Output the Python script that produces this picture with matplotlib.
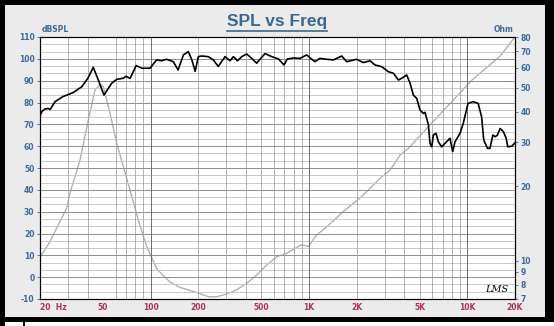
import matplotlib.pyplot as plt
import matplotlib.patches as mpatches
from matplotlib.lines import Line2D
from matplotlib.ticker import FixedLocator, NullFormatter, NullLocator

# SPL response (Hz, dB)
spl_freq = [20, 20.6, 21.5, 22.5, 23.2, 24.9, 27.9, 32.3, 36.7, 40.2, 43.4, 46.7, 50.7,
            56.7, 61, 67, 70, 74, 81, 88, 99, 109, 117, 126, 139, 149, 161, 173, 182,
            191, 200, 210, 231, 249, 267, 295, 317, 333, 353, 376, 404, 435, 467, 527,
            581, 640, 695, 729, 796, 877, 967, 1040, 1090, 1170, 1294, 1425, 1610, 1730,
            2000, 2200, 2430, 2610, 2880, 3170, 3410, 3670, 3850, 4140, 4350, 4560, 4790,
            5020, 5280, 5400, 5670, 5810, 5960, 6100, 6340, 6560, 6890, 7230, 7770, 8080,
            8360, 8990, 9430, 10100, 10900, 11700, 12300, 12700, 13400, 13900, 14500,
            15000, 15500, 16100, 16900, 17600, 18000, 19100, 20000]
spl_db = [73.8, 76.0, 77.0, 77.3, 76.8, 80.4, 82.7, 84.5, 87.2, 91.2, 96.1, 90.3, 83.4,
          88.8, 90.6, 91.1, 92.0, 91.0, 96.9, 95.7, 95.7, 99.5, 99.1, 99.8, 98.7, 94.9,
          101.8, 103.3, 99.5, 94.3, 101.0, 101.3, 101.0, 99.5, 96.5, 101.0, 99.1, 101.0,
          99.1, 101.0, 102.2, 100.2, 98.0, 102.4, 101.0, 100.0, 97.2, 99.9, 100.4, 100.2,
          101.8, 99.8, 98.7, 100.2, 99.8, 99.5, 101.3, 98.7, 99.8, 98.3, 99.1, 97.2,
          96.4, 94.1, 93.4, 90.3, 91.1, 92.6, 88.8, 83.4, 81.9, 76.6, 75.0, 75.5, 70.0,
          61.3, 59.7, 65.1, 65.9, 62.0, 59.7, 61.3, 63.6, 57.5, 62.0, 65.9, 70.5, 79.6,
          80.4, 79.6, 73.5, 62.8, 59.0, 59.0, 65.1, 64.3, 65.1, 68.1, 66.6, 63.6, 59.7,
          60.0, 61.6]

# Impedance (Hz, Ohm)
imp_freq = [20, 23.1, 26.7, 29.5, 30.9, 35.8, 40.4, 44.5, 47.9, 50.2, 55.4, 61, 67.2,
            74, 83.5, 94.4, 109, 122, 132.5, 153, 175, 200, 231, 261, 302, 349, 404, 467,
            541, 625, 723, 816, 899, 990, 1118, 1294, 1646, 2100, 2490, 2810, 3250,
            3760, 4220, 6720, 10700, 16100, 20000]
imp_ohm = [10.3, 11.9, 14.4, 16.3, 18.7, 25.5, 37.0, 48.9, 51.5, 50.4, 39.3, 29.8, 24.0,
           19.3, 14.6, 11.4, 9.3, 8.6, 8.2, 7.8, 7.6, 7.4, 7.15, 7.15, 7.33, 7.62, 8.1, 8.75,
           9.6, 10.37, 10.7, 11.2, 11.6, 11.4, 12.7, 13.7, 15.8, 17.9, 19.9, 21.5, 23.2,
           26.7, 28.3, 39.0, 53.6, 67.0, 80.0]

x_ticks = [20, 50, 100, 200, 500, 1000, 2000, 5000, 10000, 20000]
x_labels = ['20  Hz', '50', '100', '200', '500', '1K', '2K', '5K', '10K', '20K']
db_ticks = list(range(-10, 111, 10))
ohm_ticks = [7, 8, 9, 10, 20, 30, 40, 50, 60, 70, 80]
minor_freqs = [30, 40, 60, 70, 80, 90, 300, 400, 600, 700, 800, 900,
               3000, 4000, 6000, 7000, 8000, 9000]

W, H = 554, 326
fig = plt.figure(figsize=(W / 100, H / 100), dpi=100)
fig.patch.set_facecolor('black')

# panel background and bottom strip
for x0, y0, w, h, c in [(5, 9, 540, 312, '#ebebeb'), (25, 0, 529, 4, 'white'),
                        (5, 0, 18, 4, 'white')]:
    fig.add_artist(mpatches.Rectangle((x0 / W, y0 / H), w / W, h / H,
                                      transform=fig.transFigure, zorder=-5,
                                      fc=c, ec='none'))

blue = '#3f6b9b'
red = '#b03060'

ax = fig.add_axes([40 / W, 1 - 299 / H, 475 / W, 262 / H])
ax.set_facecolor('white')
ax.set_xscale('log')
ax.set_xlim(20, 20000)
ax.set_ylim(-10, 110)

# horizontal grid: every 10 dB plus two lighter steps in between
for k in range(37):
    v = -10 + k * 10 / 3
    ax.hlines(v, 20, 20000, colors='#8c8c8c' if k % 3 == 0 else '#c8c8c8',
              lw=0.7, zorder=0.3)
# vertical grid: decades darker
ax.vlines(minor_freqs + [200, 500, 2000, 5000], -10, 110, colors='#a4a4a4',
          lw=0.6, zorder=0.4)
ax.vlines([100, 1000, 10000], -10, 110, colors='#6e6e6e', lw=0.7, zorder=0.5)

ax.xaxis.set_major_locator(FixedLocator(x_ticks))
ax.xaxis.set_minor_locator(NullLocator())
ax.xaxis.set_minor_formatter(NullFormatter())
ax.set_xticklabels(x_labels)
ax.yaxis.set_major_locator(FixedLocator(db_ticks))
ax.yaxis.set_minor_locator(NullLocator())
ax.set_yticklabels([str(t) for t in db_ticks])

ax.tick_params(axis='x', colors=red, labelsize=5.5, length=0, pad=3)
ax.tick_params(axis='y', colors=blue, labelsize=5.5, length=2, width=0.6, pad=2)
for lbl in ax.get_xticklabels() + ax.get_yticklabels():
    lbl.set_fontweight('bold')
ax.get_xticklabels()[0].set_horizontalalignment('left')

# impedance on the right-hand log axis
ax2 = ax.twinx()
ax2.set_yscale('log')
ax2.set_ylim(7, 80)
ax2.yaxis.set_major_locator(FixedLocator(ohm_ticks))
ax2.yaxis.set_minor_locator(NullLocator())
ax2.set_yticklabels([str(t) for t in ohm_ticks])
ax2.tick_params(axis='y', colors=blue, labelsize=5.5, length=2, width=0.6, pad=2)
for lbl in ax2.get_yticklabels():
    lbl.set_fontweight('bold')
ax2.plot(imp_freq, imp_ohm, color='#b0b0b0', lw=1.0, zorder=2)

# SPL curve drawn on top of the impedance curve
ax.plot(spl_freq, spl_db, color='black', lw=1.2, zorder=4)
ax.set_zorder(1)
ax2.set_zorder(0)
ax.patch.set_visible(False)
ax2.patch.set_visible(True)
ax2.patch.set_facecolor('white')

for a in (ax, ax2):
    for s in a.spines.values():
        s.set_color('black')
        s.set_linewidth(0.8)

fig.text(42 / W, 1 - 32 / H, 'dBSPL', color=blue, fontsize=5.5, fontweight='bold',
         ha='left', va='baseline')
fig.text(513 / W, 1 - 32 / H, 'Ohm', color=blue, fontsize=5.5, fontweight='bold',
         ha='right', va='baseline')
fig.text(497 / W, 1 - 292 / H, 'LMS', color='black', fontsize=7, style='italic',
         family='DejaVu Serif', ha='center', va='baseline')

title = fig.text(277 / W, 1 - 26 / H, 'SPL vs Freq', color='#3a6890', fontsize=12.5,
                 fontweight='bold', family='Liberation Sans', ha='center', va='baseline')
fig.canvas.draw()
bb = title.get_window_extent()
uy = (bb.y0 + 2) / H - 3.5 / H
fig.add_artist(Line2D([bb.x0 / W, bb.x1 / W], [uy, uy], transform=fig.transFigure,
                      color='#3a6890', lw=1.2))

fig.savefig('out.png', dpi=100, facecolor=fig.get_facecolor())
